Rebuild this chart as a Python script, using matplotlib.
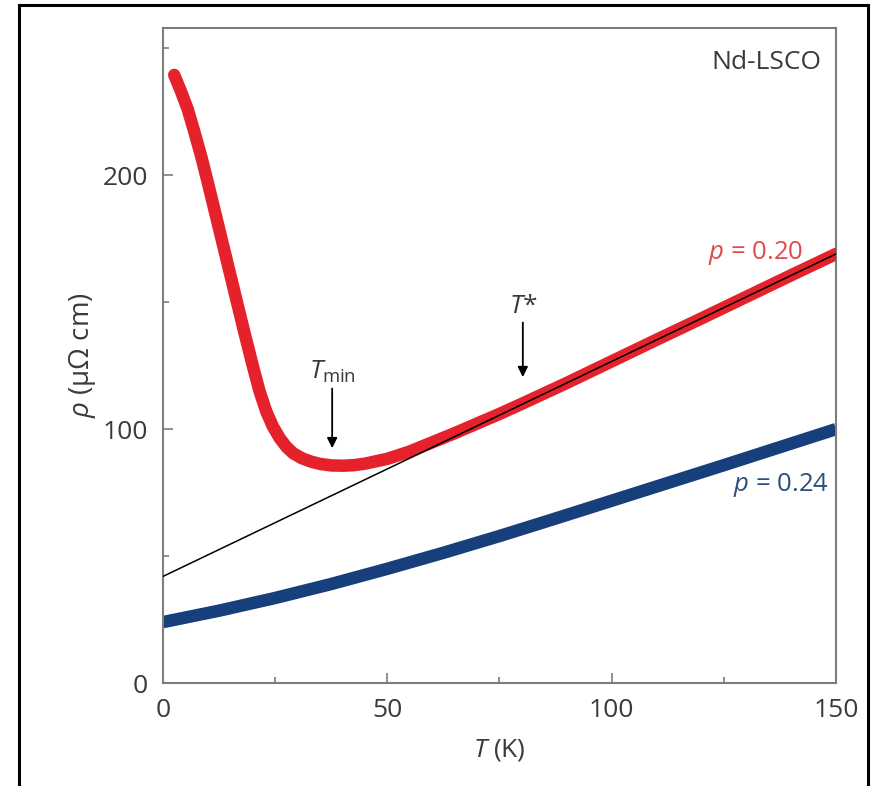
import matplotlib
matplotlib.use("Agg")
import matplotlib.pyplot as plt
from matplotlib.lines import Line2D
from matplotlib.ticker import MultipleLocator

plt.rcParams['font.family'] = ['Open Sans', 'DejaVu Sans']
plt.rcParams['mathtext.fontset'] = 'custom'
plt.rcParams['mathtext.rm'] = 'Open Sans'
plt.rcParams['mathtext.it'] = 'Open Sans:italic'

# --- resistivity data (T in K, rho in micro-ohm cm) ---
T_020 = [2.5, 4, 5.5, 7, 8.5, 10, 12, 14, 16, 18, 20, 21.5, 23, 24.5, 26,
         27.5, 29, 31, 33, 35, 37.5, 40, 42.5, 45, 50, 55, 60, 65, 70, 75,
         80, 90, 100, 110, 120, 130, 140, 150]
rho_020 = [239.5, 233, 226, 217, 207.5, 197, 182.5, 168, 153.5, 139, 125,
           115, 107, 101, 96.5, 93, 90.5, 88.5, 87.2, 86.3, 85.7, 85.6, 85.8,
           86.4, 88.3, 91.2, 94.8, 98.4, 102.2, 106, 110, 118.2, 126.7,
           135.2, 143.6, 152.1, 160.6, 169]

T_024 = [0, 12.5, 25, 37.5, 50, 62.5, 75, 87.5, 100, 112.5, 125, 137.5, 150]
rho_024 = [24, 28.5, 33.5, 39, 45, 51.3, 57.9, 64.8, 71.8, 78.8, 85.8,
           92.9, 100]

# linear fit to the high-T part of p = 0.20
T_fit = [0, 150]
rho_fit = [42, 169]

# annotation positions
T_min, T_star = 37.7, 80.2

RED = '#e5222b'
BLUE = '#173f7c'
TXT = '#3a3a3a'
AX = '#7d7d7d'

fig = plt.figure(figsize=(8.77, 7.86), dpi=100)
ax = fig.add_axes([0.1859, 0.1310, 0.9532 - 0.1859, 0.9644 - 0.1310])

ax.plot(T_024, rho_024, color=BLUE, lw=9, solid_capstyle='butt',
        solid_joinstyle='round', zorder=2)
ax.plot(T_020, rho_020, color=RED, lw=9, solid_capstyle='round',
        solid_joinstyle='round', zorder=3)
ax.plot(T_fit, rho_fit, color='black', lw=1.1, zorder=4)

ax.set_xlim(0, 150)
ax.set_ylim(0, 258)
ax.xaxis.set_major_locator(MultipleLocator(50))
ax.xaxis.set_minor_locator(MultipleLocator(25))
ax.yaxis.set_major_locator(MultipleLocator(100))
ax.yaxis.set_minor_locator(MultipleLocator(50))
ax.tick_params(which='both', direction='in', color=AX, width=1.2,
               labelsize=19, labelcolor=TXT, pad=11)
ax.tick_params(which='major', length=7)
ax.tick_params(which='minor', length=4)
for s in ax.spines.values():
    s.set_color(AX)
    s.set_linewidth(1.5)

ax.set_xlabel(r'$T$ (K)', fontsize=19, color=TXT, labelpad=10)
ax.set_ylabel(r'$\rho$ (μΩ cm)', fontsize=20, color=TXT, labelpad=3)

ax.text(0.979, 0.967, 'Nd-LSCO', transform=ax.transAxes, ha='right',
        va='top', fontsize=19, color=TXT)
ax.text(142.6, 169.3, r'$p$ = 0.20', ha='right', va='center', fontsize=18.5,
        color='#e04a4a')
ax.text(148.5, 78, r'$p$ = 0.24', ha='right', va='center', fontsize=18.5,
        color='#2d4f80')

# arrows marking T_min and T*
arrow = dict(arrowstyle='-|>', color='black', lw=1.3, mutation_scale=15,
             shrinkA=0, shrinkB=0)
ax.annotate('', xy=(T_min, 92.5), xytext=(T_min, 116), arrowprops=arrow)
ax.annotate('', xy=(T_star, 120.5), xytext=(T_star, 142), arrowprops=arrow)
ax.text(T_min, 117.5, r'$T_{\mathrm{min}}$', ha='center', va='bottom',
        fontsize=19, color=TXT)
ax.text(T_star, 143.5, r'$T$*', ha='center', va='bottom', fontsize=19,
        color=TXT)

# outer frame
for xs, ys in [([0.0217, 0.0217], [0, 0.9936]),
               ([0.0217, 0.99], [0.9936, 0.9936]),
               ([0.99, 0.99], [0, 0.9936])]:
    fig.add_artist(Line2D(xs, ys, color='black', lw=2.2,
                          transform=fig.transFigure))

fig.savefig('out.png', dpi=100)
